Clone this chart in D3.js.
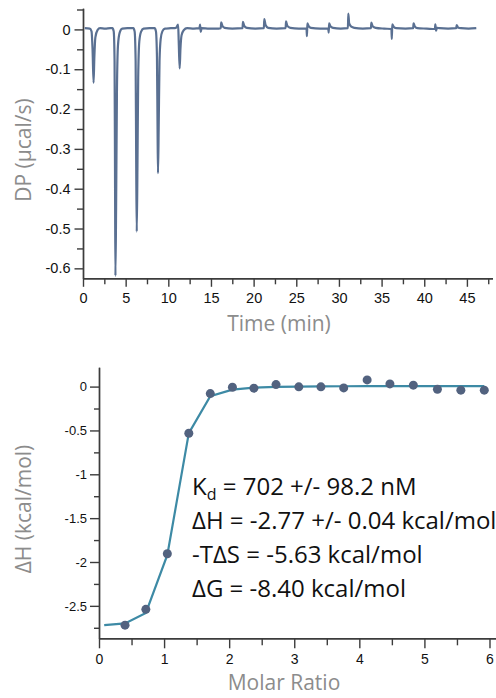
<!DOCTYPE html>
<html>
<head>
<meta charset="utf-8">
<script src="https://cdn.jsdelivr.net/npm/d3@7"></script>
<style>
  body { margin: 0; background: #fff; }
  svg { display: block; font-family: "Segoe UI", "Open Sans", sans-serif; }
  .axis path, .axis line { stroke: #3c3c3c; stroke-width: 1.4; }
  .axis text { fill: #111; }
  .title { fill: #8c8c8c; }
</style>
</head>
<body>
<div id="chart"></div>
<script>
var svgWidth = 496;
var svgHeight = 698;

// raw thermogram: time (min), DP (ucal/s)
var traceTime = [0.2, 0.8, 1.0, 1.12, 1.24, 1.33, 1.45, 1.7, 2.0, 2.6, 3.2,
  3.45, 3.6, 3.7, 3.76, 3.8, 3.88, 3.98, 4.1, 4.3, 4.6, 5.2,
  5.9, 6.05, 6.17, 6.24, 6.3, 6.38, 6.47, 6.6, 6.8, 7.1, 7.8,
  8.4, 8.55, 8.67, 8.74, 8.79, 8.87, 8.97, 9.1, 9.3, 9.6, 10.3,
  10.9, 11.15, 11.22, 11.33, 11.42, 11.55, 11.8, 12.2,
  13.0, 13.65, 13.72, 13.8, 13.9, 14.8, 15.9,
  16.15, 16.2, 16.35, 16.6, 17.5, 18.7, 18.75, 18.9, 19.2, 20.2,
  21.2, 21.25, 21.4, 21.7, 22.7, 23.75, 23.8, 23.95, 24.3, 25.3,
  26.2, 26.25, 26.3, 26.45, 26.7, 27.8, 28.75, 28.8, 28.85, 29.0, 29.3, 30.2,
  31.05, 31.1, 31.2, 31.45, 31.8, 32.8, 33.75, 33.8, 33.95, 34.3, 35.3,
  36.15, 36.2, 36.25, 36.4, 36.7, 37.8, 38.7, 38.75, 38.9, 39.2, 40.3,
  41.25, 41.3, 41.38, 41.5, 41.8, 42.8, 43.75, 43.8, 43.95, 44.3, 45.2, 46.1];
var traceDP = [0.003, 0.002, -0.005, -0.05, -0.134, -0.07, -0.02, -0.002, 0.003, 0.002, 0.003,
  0.003, -0.005, -0.08, -0.4, -0.619, -0.45, -0.15, -0.04, -0.008, 0.002, 0.003,
  0.003, -0.005, -0.08, -0.35, -0.508, -0.35, -0.12, -0.03, -0.006, 0.002, 0.003,
  0.003, -0.005, -0.07, -0.25, -0.361, -0.25, -0.08, -0.025, -0.005, 0.002, 0.003,
  0.004, 0.012, -0.03, -0.098, -0.05, -0.015, -0.002, 0.003,
  0.002, 0.003, 0.012, -0.006, 0.003, 0.002, 0.002,
  0.003, 0.018, 0.008, 0.004, 0.002, 0.003, 0.019, 0.009, 0.004, 0.002,
  0.003, 0.026, 0.011, 0.004, 0.002, 0.003, 0.02, 0.009, 0.004, 0.002,
  0.002, -0.017, 0.015, 0.008, 0.004, 0.002, 0.002, -0.008, 0.015, 0.008, 0.004, 0.002,
  0.003, 0.04, 0.015, 0.007, 0.004, 0.002, 0.003, 0.017, 0.008, 0.004, 0.002,
  0.001, -0.024, 0.013, 0.007, 0.003, 0.002, 0.003, 0.015, 0.007, 0.003, 0.002,
  0.001, 0.013, -0.003, 0.004, 0.003, 0.002, 0.003, 0.011, 0.005, 0.003, 0.002, 0.003];

// integrated heats per injection
var molarRatio = [0.40, 0.72, 1.05, 1.38, 1.71, 2.05, 2.38, 2.72, 3.07, 3.41,
  3.76, 4.12, 4.47, 4.83, 5.20, 5.56, 5.92];
var heat = [-2.72, -2.54, -1.906, -0.532, -0.08, -0.007, -0.018, 0.023, -0.003, -0.003,
  -0.015, 0.076, 0.031, 0.016, -0.03, -0.041, -0.041];

// fitted curve
var fitRatio = [0.08, 0.40, 0.72, 1.05, 1.38, 1.71, 2.05, 2.38, 2.72, 3.07, 3.41,
  3.76, 4.12, 4.47, 4.83, 5.20, 5.56, 5.92];
var fitHeat = [-2.72, -2.70, -2.58, -1.92, -0.53, -0.11, -0.035, -0.012, -0.004, 0.0, 0.003,
  0.004, 0.005, 0.005, 0.005, 0.005, 0.005, 0.005];

// ticks
var topYMajor = [-0.6, -0.5, -0.4, -0.3, -0.2, -0.1, 0];
var topYMinor = [-0.55, -0.45, -0.35, -0.25, -0.15, -0.05, 0.05];
var topXMajor = [0, 5, 10, 15, 20, 25, 30, 35, 40, 45];
var topXMinor = [2.5, 7.5, 12.5, 17.5, 22.5, 27.5, 32.5, 37.5, 42.5, 47.5];
var botYMajor = [-2.5, -2, -1.5, -1, -0.5, 0];
var botYMinor = [-2.75, -2.25, -1.75, -1.25, -0.75, -0.25];
var botXMajor = [0, 1, 2, 3, 4, 5, 6];
var botXMinor = [0.5, 1.5, 2.5, 3.5, 4.5, 5.5];

var svg = d3.select("#chart")
  .append("svg")
  .attr("width", svgWidth)
  .attr("height", svgHeight);

var fmt = d => d3.format("")(d).replace("−", "-");

// ---------- top panel ----------
var x1 = d3.scaleLinear().domain([0, 48]).range([83, 492.5]);
var y1 = d3.scaleLinear().domain([-0.625, 0.053]).range([278.3, 8.3]);

svg.append("g").attr("class", "axis")
  .attr("transform", "translate(0,278.3)")
  .call(d3.axisBottom(x1).tickValues(topXMinor).tickSize(6).tickSizeOuter(0).tickFormat(""));
svg.append("g").attr("class", "axis")
  .attr("transform", "translate(0,278.3)")
  .call(d3.axisBottom(x1).tickValues(topXMajor).tickSize(8.5).tickSizeOuter(0).tickPadding(6).tickFormat(fmt))
  .selectAll("text").style("font-size", "14.5px");

svg.append("g").attr("class", "axis")
  .attr("transform", "translate(83,0)")
  .call(d3.axisLeft(y1).tickValues(topYMinor).tickSize(6).tickSizeOuter(0).tickFormat(""));
svg.append("g").attr("class", "axis")
  .attr("transform", "translate(83,0)")
  .call(d3.axisLeft(y1).tickValues(topYMajor).tickSize(8.5).tickSizeOuter(0).tickPadding(4).tickFormat(fmt))
  .selectAll("text").style("font-size", "14.5px");

var traceLine = d3.line()
  .x((d, i) => x1(traceTime[i]))
  .y(d => y1(d))
  .curve(d3.curveMonotoneX);

svg.append("path")
  .datum(traceDP)
  .attr("d", traceLine)
  .attr("fill", "none")
  .attr("stroke", "#5a7092")
  .attr("stroke-width", 2.2)
  .attr("stroke-linejoin", "round");

svg.append("text")
  .attr("class", "title")
  .attr("x", 279)
  .attr("y", 331)
  .attr("text-anchor", "middle")
  .style("font-size", "21px")
  .text("Time (min)");

svg.append("text")
  .attr("class", "title")
  .attr("transform", "translate(31,150) rotate(-90)")
  .attr("text-anchor", "middle")
  .style("font-size", "21px")
  .text("DP (µcal/s)");

// ---------- bottom panel ----------
var x2 = d3.scaleLinear().domain([0, 6.1]).range([99, 496]);
var y2 = d3.scaleLinear().domain([-2.87, 0.22]).range([638.3, 367.3]);

svg.append("g").attr("class", "axis")
  .attr("transform", "translate(0,638.3)")
  .call(d3.axisBottom(x2).tickValues(botXMinor).tickSize(7).tickSizeOuter(0).tickFormat(""));
svg.append("g").attr("class", "axis")
  .attr("transform", "translate(0,638.3)")
  .call(d3.axisBottom(x2).tickValues(botXMajor).tickSize(10).tickSizeOuter(0).tickPadding(6).tickFormat(fmt))
  .selectAll("text").style("font-size", "14px");

svg.append("g").attr("class", "axis")
  .attr("transform", "translate(99,0)")
  .call(d3.axisLeft(y2).tickValues(botYMinor).tickSize(5).tickSizeOuter(0).tickFormat(""));
svg.append("g").attr("class", "axis")
  .attr("transform", "translate(99,0)")
  .call(d3.axisLeft(y2).tickValues(botYMajor).tickSize(9).tickSizeOuter(0).tickPadding(3).tickFormat(fmt))
  .selectAll("text").style("font-size", "13px");

var fitLine = d3.line()
  .x((d, i) => x2(fitRatio[i]))
  .y(d => y2(d));

svg.append("path")
  .datum(fitHeat)
  .attr("d", fitLine)
  .attr("fill", "none")
  .attr("stroke", "#3d8aa5")
  .attr("stroke-width", 2.2);

svg.append("g").selectAll("circle")
  .data(heat)
  .enter()
  .append("circle")
  .attr("cx", (d, i) => x2(molarRatio[i]))
  .attr("cy", d => y2(d))
  .attr("r", 4.5)
  .attr("fill", "#52627f");

svg.append("text")
  .attr("class", "title")
  .attr("x", 284)
  .attr("y", 690)
  .attr("text-anchor", "middle")
  .style("font-size", "21px")
  .text("Molar Ratio");

svg.append("text")
  .attr("class", "title")
  .attr("transform", "translate(31,509) rotate(-90)")
  .attr("text-anchor", "middle")
  .style("font-size", "21px")
  .text("ΔH (kcal/mol)");

// fit results
var results = svg.append("g").style("font-size", "24px").attr("fill", "#111");

var kd = results.append("text").attr("x", 192).attr("y", 495);
kd.append("tspan").text("K");
kd.append("tspan").attr("dy", 5).style("font-size", "16px").text("d");
kd.append("tspan").attr("dy", -5).text(" = 702 +/- 98.2 nM");

results.append("text").attr("x", 192).attr("y", 529).text("ΔH = -2.77 +/- 0.04 kcal/mol");
results.append("text").attr("x", 192).attr("y", 563).text("-TΔS = -5.63 kcal/mol");
results.append("text").attr("x", 192).attr("y", 597).text("ΔG = -8.40 kcal/mol");
</script>
</body>
</html>
